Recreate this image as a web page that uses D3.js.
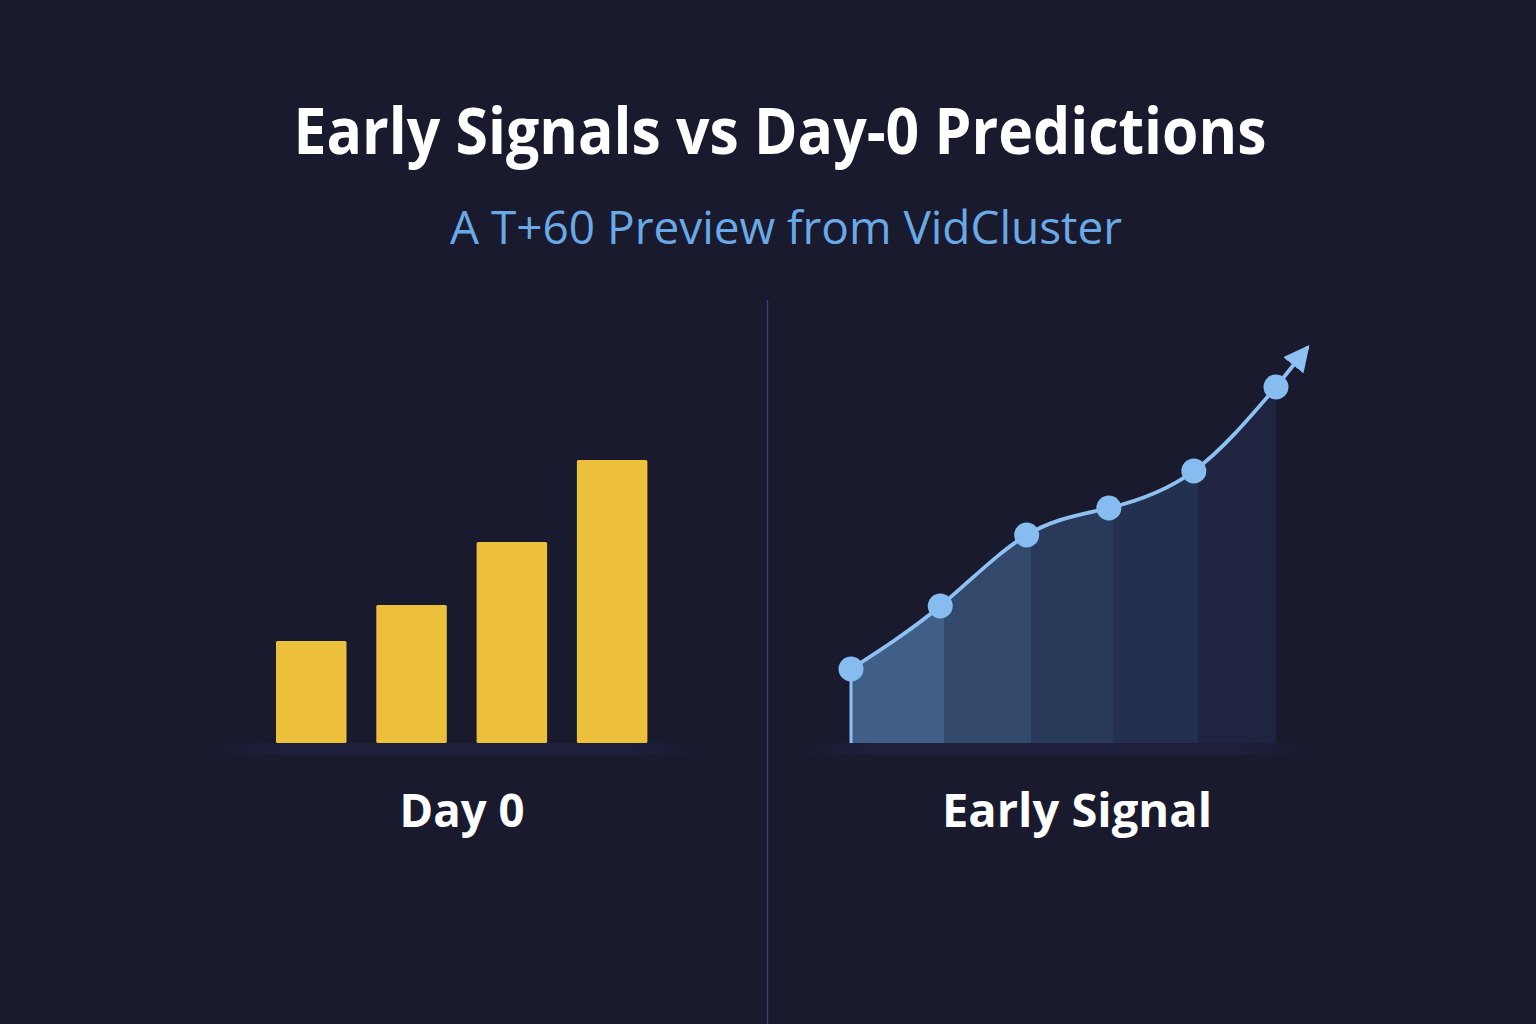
<!DOCTYPE html>
<html>
<head>
<meta charset="utf-8">
<script src="https://cdn.jsdelivr.net/npm/d3@7/dist/d3.min.js"></script>
<style>
  html, body { margin: 0; padding: 0; background: #191a2e; }
  svg { display: block; }
</style>
</head>
<body>
<svg id="chart" width="1536" height="1024"></svg>
<script>
// ---- Data ----
const titleText = "Early Signals vs Day-0 Predictions";
const subtitleText = "A T+60 Preview from VidCluster";
const panelLabels = ["Day 0", "Early Signal"];

const dayZeroCategories = ["P1", "P2", "P3", "P4"];
const dayZeroValues = [102, 138, 201, 283];

const signalTimes = [0, 12.6, 24.8, 36.4, 48.4, 60];
const signalValues = [74, 137, 208, 235, 272, 356];
const arrowTip = { t: 64.5, v: 396 };

const columnColors = ["#3f5f87", "#33496c", "#29395a", "#24304f", "#1f2541"];

// ---- Setup ----
const W = 1536, H = 1024;
const svg = d3.select("#chart");
const defs = svg.append("defs");

svg.append("rect").attr("width", W).attr("height", H).attr("fill", "#191a2e");

const y = d3.scaleLinear().domain([0, 400]).range([743, 343]);

// Title
svg.append("text")
  .attr("x", 780).attr("y", 154)
  .attr("text-anchor", "middle")
  .attr("font-family", "'Open Sans', 'Noto Sans', sans-serif")
  .attr("font-weight", 700)
  .attr("font-size", 64)
  .attr("fill", "#ffffff")
  .attr("textLength", 973).attr("lengthAdjust", "spacingAndGlyphs")
  .text(titleText);

svg.append("text")
  .attr("x", 786).attr("y", 244)
  .attr("text-anchor", "middle")
  .attr("font-family", "'Open Sans', 'Noto Sans', sans-serif")
  .attr("font-weight", 400)
  .attr("font-size", 46)
  .attr("fill", "#6aa9e6")
  .attr("textLength", 672).attr("lengthAdjust", "spacingAndGlyphs")
  .text(subtitleText);

// Divider
svg.append("line")
  .attr("x1", 767.5).attr("x2", 767.5).attr("y1", 300).attr("y2", H)
  .attr("stroke", "#3c3c7c").attr("stroke-width", 1.3);

// Baseline glow bands
const bandGrad = defs.append("linearGradient").attr("id", "bandGrad")
  .attr("x1", "0%").attr("x2", "100%");
bandGrad.append("stop").attr("offset", "0%").attr("stop-color", "#23254a").attr("stop-opacity", 0);
bandGrad.append("stop").attr("offset", "15%").attr("stop-color", "#23254a").attr("stop-opacity", 0.45);
bandGrad.append("stop").attr("offset", "85%").attr("stop-color", "#23254a").attr("stop-opacity", 0.45);
bandGrad.append("stop").attr("offset", "100%").attr("stop-color", "#23254a").attr("stop-opacity", 0);
[[205, 705], [790, 1320]].forEach(([a, b]) => {
  svg.append("rect").attr("x", a).attr("y", y(0)).attr("width", b - a).attr("height", 12)
    .attr("fill", "url(#bandGrad)");
});

// ---- Left panel: bars ----
const xBar = d3.scaleBand().domain(dayZeroCategories).range([276, 647.4]).paddingInner(0.297).paddingOuter(0);
svg.append("g").selectAll("rect").data(dayZeroValues).join("rect")
  .attr("x", (d, i) => xBar(dayZeroCategories[i]))
  .attr("y", d => y(d))
  .attr("width", xBar.bandwidth())
  .attr("height", d => y(0) - y(d))
  .attr("rx", 1.5)
  .attr("fill", "#ecc03a");

svg.append("text")
  .attr("x", 462).attr("y", 827)
  .attr("text-anchor", "middle")
  .attr("font-family", "'Open Sans', 'Noto Sans', sans-serif")
  .attr("font-weight", 700).attr("font-size", 47)
  .attr("fill", "#ffffff")
  .attr("textLength", 125).attr("lengthAdjust", "spacingAndGlyphs")
  .text(panelLabels[0]);

// ---- Right panel: line/area ----
const xT = d3.scaleLinear().domain([0, 60]).range([851, 1276]);
const pts = signalTimes.map((t, i) => ({ t, v: signalValues[i] }));

// stepped horizontal gradient for area columns
const areaGrad = defs.append("linearGradient").attr("id", "areaGrad")
  .attr("gradientUnits", "userSpaceOnUse")
  .attr("x1", xT(0)).attr("x2", xT(60)).attr("y1", 0).attr("y2", 0);
const span = xT(60) - xT(0);
columnColors.forEach((c, i) => {
  const a = (xT(signalTimes[i]) - xT(0) + (i ? 4 : 0)) / span;
  const b = (xT(signalTimes[i + 1]) - xT(0) + (i < columnColors.length - 1 ? 4 : 0)) / span;
  areaGrad.append("stop").attr("offset", a).attr("stop-color", c);
  areaGrad.append("stop").attr("offset", b).attr("stop-color", c);
});

const curve = d3.curveNatural;
const area = d3.area().x(d => xT(d.t)).y0(y(0)).y1(d => y(d.v)).curve(curve);
const line = d3.line().x(d => xT(d.t)).y(d => y(d.v)).curve(curve);

svg.append("path").datum(pts).attr("d", area).attr("fill", "url(#areaGrad)");

// left edge stroke
svg.append("line")
  .attr("x1", xT(signalTimes[0])).attr("x2", xT(signalTimes[0]))
  .attr("y1", y(signalValues[0])).attr("y2", y(0))
  .attr("stroke", "#8ec0f2").attr("stroke-width", 3);

svg.append("path").datum(pts).attr("d", line)
  .attr("fill", "none").attr("stroke", "#8ec0f2").attr("stroke-width", 3.8);

// arrow
defs.append("marker").attr("id", "arrowHead")
  .attr("viewBox", "0 0 10 10").attr("refX", 9).attr("refY", 5)
  .attr("markerWidth", 26).attr("markerHeight", 26)
  .attr("markerUnits", "userSpaceOnUse")
  .attr("orient", "auto")
  .append("path").attr("d", "M0,0 L10,5 L0,10 Z").attr("fill", "#8ec0f2");

const last = pts[pts.length - 1];
svg.append("line")
  .attr("x1", xT(last.t)).attr("y1", y(last.v))
  .attr("x2", xT(arrowTip.t)).attr("y2", y(arrowTip.v))
  .attr("stroke", "#8ec0f2").attr("stroke-width", 3.8)
  .attr("marker-end", "url(#arrowHead)");

svg.append("g").selectAll("circle").data(pts).join("circle")
  .attr("cx", d => xT(d.t)).attr("cy", d => y(d.v)).attr("r", 12.5)
  .attr("fill", "#87bcf1");

svg.append("text")
  .attr("x", 1077).attr("y", 827)
  .attr("text-anchor", "middle")
  .attr("font-family", "'Open Sans', 'Noto Sans', sans-serif")
  .attr("font-weight", 700).attr("font-size", 47)
  .attr("fill", "#ffffff")
  .attr("textLength", 270).attr("lengthAdjust", "spacingAndGlyphs")
  .text(panelLabels[1]);
</script>
</body>
</html>
